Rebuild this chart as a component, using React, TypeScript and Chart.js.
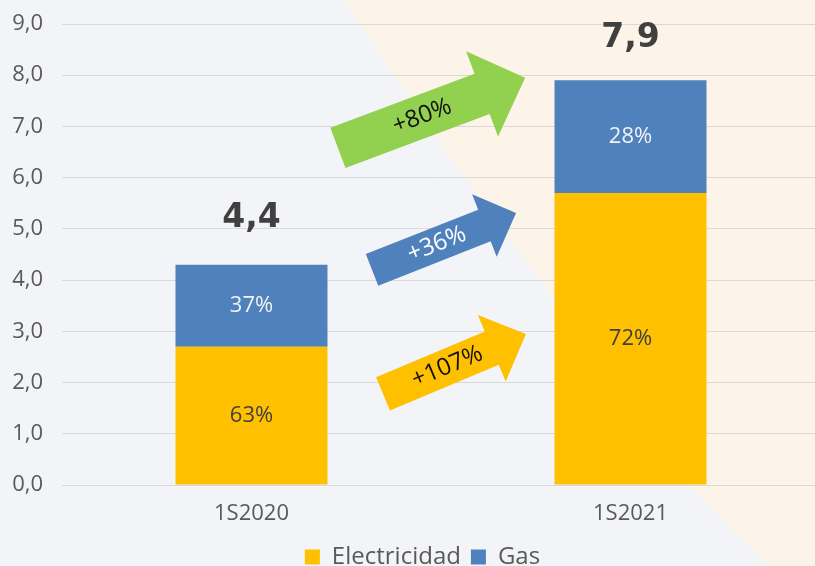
import React, { useEffect, useRef } from "react";
import { Chart, registerables } from "chart.js";

Chart.register(...registerables);

// ---- data ----
const categories = ["1S2020", "1S2021"];
const electricidad = [2.7, 5.7];
const gas = [1.6, 2.2];
const totals = [4.4, 7.9];
const electricidadShare = [63, 72];
const gasShare = [37, 28];
const growthLabels = ["+80%", "+36%", "+107%"];
const yTicks = [0, 1, 2, 3, 4, 5, 6, 7, 8, 9];

// ---- annotation config (arrows between bars, in data coordinates) ----
const arrows = [
  { from: [0.228, 6.58], to: [0.722, 7.95], shaft: 43, head: 91, headLen: 46, color: "#92D050", text: "#111111" },
  { from: [0.318, 4.2], to: [0.698, 5.31], shaft: 34, head: 67, headLen: 34, color: "#4F81BD", text: "#ffffff" },
  { from: [0.347, 1.78], to: [0.724, 2.95], shaft: 36, head: 72, headLen: 37, color: "#FFC000", text: "#111111" },
];

const FONT = '"Open Sans", "DejaVu Sans", sans-serif';
const fmt = (v: number) => v.toFixed(1).replace(".", ",");

const backgroundPlugin = {
  id: "bg",
  beforeDraw(chart: any) {
    const { ctx, width, height } = chart;
    ctx.save();
    ctx.fillStyle = "#f3f4f7";
    ctx.fillRect(0, 0, width, height);
    ctx.fillStyle = "#fcf4e8";
    ctx.beginPath();
    ctx.moveTo(345, 0);
    ctx.bezierCurveTo(430, 140, 560, 300, 640, 420);
    ctx.bezierCurveTo(680, 480, 730, 530, 770, height);
    ctx.lineTo(width, height);
    ctx.lineTo(width, 0);
    ctx.closePath();
    ctx.fill();
    ctx.restore();
  },
};

const layoutTweakPlugin = {
  id: "layoutTweak",
  afterLayout(chart: any) {
    if (chart.legend) {
      chart.legend.left += 15;
      chart.legend.right += 15;
    }
    const xs = chart.scales.x;
    if (xs) {
      xs.right += 5;
      xs.width += 5;
      xs.configure();
    }
  },
};

const labelsPlugin = {
  id: "labels",
  afterDatasetsDraw(chart: any) {
    const { ctx } = chart;
    const xs = chart.scales.x;
    const ys = chart.scales.y;
    ctx.save();
    ctx.textAlign = "center";
    ctx.textBaseline = "middle";
    const shares = [electricidadShare, gasShare];
    const colors = ["#404040", "#f2f2f2"];
    chart.data.datasets.forEach((_ds: any, di: number) => {
      const meta = chart.getDatasetMeta(di);
      meta.data.forEach((bar: any, i: number) => {
        const p = bar.getProps(["x", "y", "base"], true);
        ctx.font = `22px ${FONT}`;
        ctx.fillStyle = colors[di];
        ctx.fillText(shares[di][i] + "%", p.x, (p.y + p.base) / 2);
      });
    });
    // totals
    const meta0 = chart.getDatasetMeta(0);
    ctx.font = 'bold 33px "DejaVu Sans", sans-serif';
    ctx.fillStyle = "#404040";
    totals.forEach((t, i) => {
      ctx.fillText(fmt(t), meta0.data[i].x, ys.getPixelForValue(t + 0.81));
    });
    // arrows
    arrows.forEach((a, k) => {
      const tx = xs.getPixelForValue(a.from[0]);
      const ty = ys.getPixelForValue(a.from[1]);
      const px = xs.getPixelForValue(a.to[0]);
      const py = ys.getPixelForValue(a.to[1]);
      const dx = px - tx;
      const dy = py - ty;
      const L = Math.hypot(dx, dy);
      const ux = dx / L;
      const uy = dy / L;
      const nx = -uy;
      const ny = ux;
      const bx = px - ux * a.headLen;
      const by = py - uy * a.headLen;
      const w = a.shaft / 2;
      const h = a.head / 2;
      ctx.fillStyle = a.color;
      ctx.beginPath();
      ctx.moveTo(tx + nx * w, ty + ny * w);
      ctx.lineTo(bx + nx * w, by + ny * w);
      ctx.lineTo(bx + nx * h, by + ny * h);
      ctx.lineTo(px, py);
      ctx.lineTo(bx - nx * h, by - ny * h);
      ctx.lineTo(bx - nx * w, by - ny * w);
      ctx.lineTo(tx - nx * w, ty - ny * w);
      ctx.closePath();
      ctx.fill();
      const cx = tx + ux * L * 0.45;
      const cy = ty + uy * L * 0.45;
      ctx.save();
      ctx.translate(cx, cy);
      ctx.rotate(Math.atan2(dy, dx));
      ctx.font = `24px ${FONT}`;
      ctx.fillStyle = a.text;
      ctx.fillText(growthLabels[k], 0, 0);
      ctx.restore();
    });
    ctx.restore();
  },
};

export default function App() {
  const ref = useRef<HTMLCanvasElement | null>(null);
  useEffect(() => {
    if (!ref.current) return;
    const chart = new Chart(ref.current, {
      type: "bar",
      data: {
        labels: categories,
        datasets: [
          {
            label: "Electricidad",
            data: electricidad,
            backgroundColor: "#FFC000",
            barPercentage: 0.401,
            categoryPercentage: 1,
          },
          {
            label: "Gas",
            data: gas,
            backgroundColor: "#4F81BD",
            barPercentage: 0.401,
            categoryPercentage: 1,
          },
        ],
      },
      options: {
        responsive: false,
        animation: false,
        layout: { padding: { top: 24, left: 0, right: 0, bottom: 0 } },
        plugins: {
          legend: {
            position: "bottom",
            maxHeight: 31,
            labels: {
              boxWidth: 15,
              boxHeight: 15,
              padding: 10,
              color: "#595959",
              font: { family: FONT, size: 24 },
            },
          },
          tooltip: { enabled: false },
        },
        scales: {
          x: {
            stacked: true,
            grid: { display: false },
            border: { display: false },
            ticks: { color: "#595959", font: { family: FONT, size: 22 }, padding: 8 },
            afterFit: (s: any) => {
              s.height = 50;
            },
          },
          y: {
            stacked: true,
            min: 0,
            max: 9,
            afterBuildTicks: (s: any) => {
              s.ticks = yTicks.map((v) => ({ value: v }));
            },
            grid: { color: "#d9d9d9", lineWidth: 1, drawTicks: false },
            border: { display: false },
            ticks: {
              color: "#595959",
              font: { family: FONT, size: 22 },
              padding: 19,
              callback: (v: any) => fmt(Number(v)),
            },
            afterFit: (s: any) => {
              s.width = 62;
              s.paddingTop = 0;
              s.paddingBottom = 0;
            },
          },
        },
      },
      plugins: [backgroundPlugin, layoutTweakPlugin, labelsPlugin],
    });
    return () => chart.destroy();
  }, []);
  return (
    <div style={{ position: "fixed", left: 0, top: 0, width: 815, height: 566 }}>
      <canvas ref={ref} width={815} height={566} style={{ display: "block" }} />
    </div>
  );
}
